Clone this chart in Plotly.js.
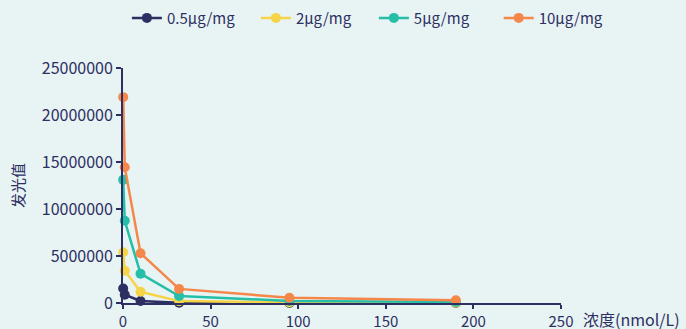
<!DOCTYPE html>
<html><head><meta charset="utf-8">
<script src="https://cdn.plot.ly/plotly-3.0.1.min.js"></script>
<style>html,body{margin:0;padding:0;background:#e8f3f3;}</style>
</head><body><div id="chart" style="width:686px;height:329px;"></div>
<script>
const concentration = [0.1, 1, 10, 32, 95, 190];
const seriesNames = ["0.5μg/mg", "2μg/mg", "5μg/mg", "10μg/mg"];
const s05 = [1540000, 880000, 210000, 20000, 10000, 5000];
const s2 = [5400000, 3440000, 1190000, 200000, 60000, 30000];
const s5 = [13100000, 8750000, 3120000, 740000, 220000, 110000];
const s10 = [21900000, 14450000, 5300000, 1500000, 560000, 300000];
const colors = ["#2d2f63", "#f5d547", "#25bfa9", "#f5874a"];
const allSeries = [s05, s2, s5, s10];
const xTickVals = [0, 50, 100, 150, 200, 250];
const yTickVals = [0, 5000000, 10000000, 15000000, 20000000, 25000000];

const legendIds = ["legend", "legend2", "legend3", "legend4"];
const legendX = [0.185, 0.373, 0.545, 0.727];
const fam = "Noto Sans CJK SC, Noto Sans, sans-serif";

const traces = allSeries.map((s, i) => ({
  x: concentration, y: s, name: seriesNames[i], type: 'scatter', mode: 'lines+markers',
  line: {color: colors[i], width: 2.5}, marker: {color: colors[i], size: 10},
  cliponaxis: false, legend: legendIds[i]
}));
const tickFont = {family: fam, color: "#2d2f63", size: 16};
const layout = {
  width: 686, height: 329, paper_bgcolor: "#e8f3f3", plot_bgcolor: "#e8f3f3",
  margin: {l: 123, r: 125, t: 68, b: 26},
  font: tickFont, showlegend: true,
  xaxis: {range: [0, 250], tickvals: xTickVals, ticktext: xTickVals.map(String), showgrid: false, zeroline: false,
    showline: true, linecolor: "#2d2f63", linewidth: 2, ticks: 'outside', tickcolor: "#2d2f63", ticklen: 4, tickwidth: 2,
    tickfont: {family: fam, color: "#2d2f63", size: 15}},
  yaxis: {range: [0, 25000000], tickvals: yTickVals, ticktext: yTickVals.map(String), showgrid: false, zeroline: false,
    showline: true, linecolor: "#2d2f63", linewidth: 2, ticks: 'outside', tickcolor: "#2d2f63", ticklen: 5, tickwidth: 2,
    tickfont: tickFont, title: {text: "发光值", font: {family: fam, color: "#2d2f63", size: 15}, standoff: 14}},
  annotations: [{text: "浓度(nmol/L)", xref: 'paper', yref: 'paper', x: 1.0, y: 0, xanchor: 'left', yanchor: 'top',
    xshift: 20, yshift: -2, showarrow: false, font: {family: fam, color: "#2d2f63", size: 16}}]
};
legendIds.forEach((id, i) => {
  layout[id] = {orientation: 'h', x: legendX[i], xref: 'container', xanchor: 'left', y: 0.995, yref: 'container', yanchor: 'top',
    font: {family: fam, size: 15, color: "#2d2f63"}, bgcolor: 'rgba(0,0,0,0)'};
});
Plotly.newPlot('chart', traces, layout, {displayModeBar: false});
</script></body></html>
